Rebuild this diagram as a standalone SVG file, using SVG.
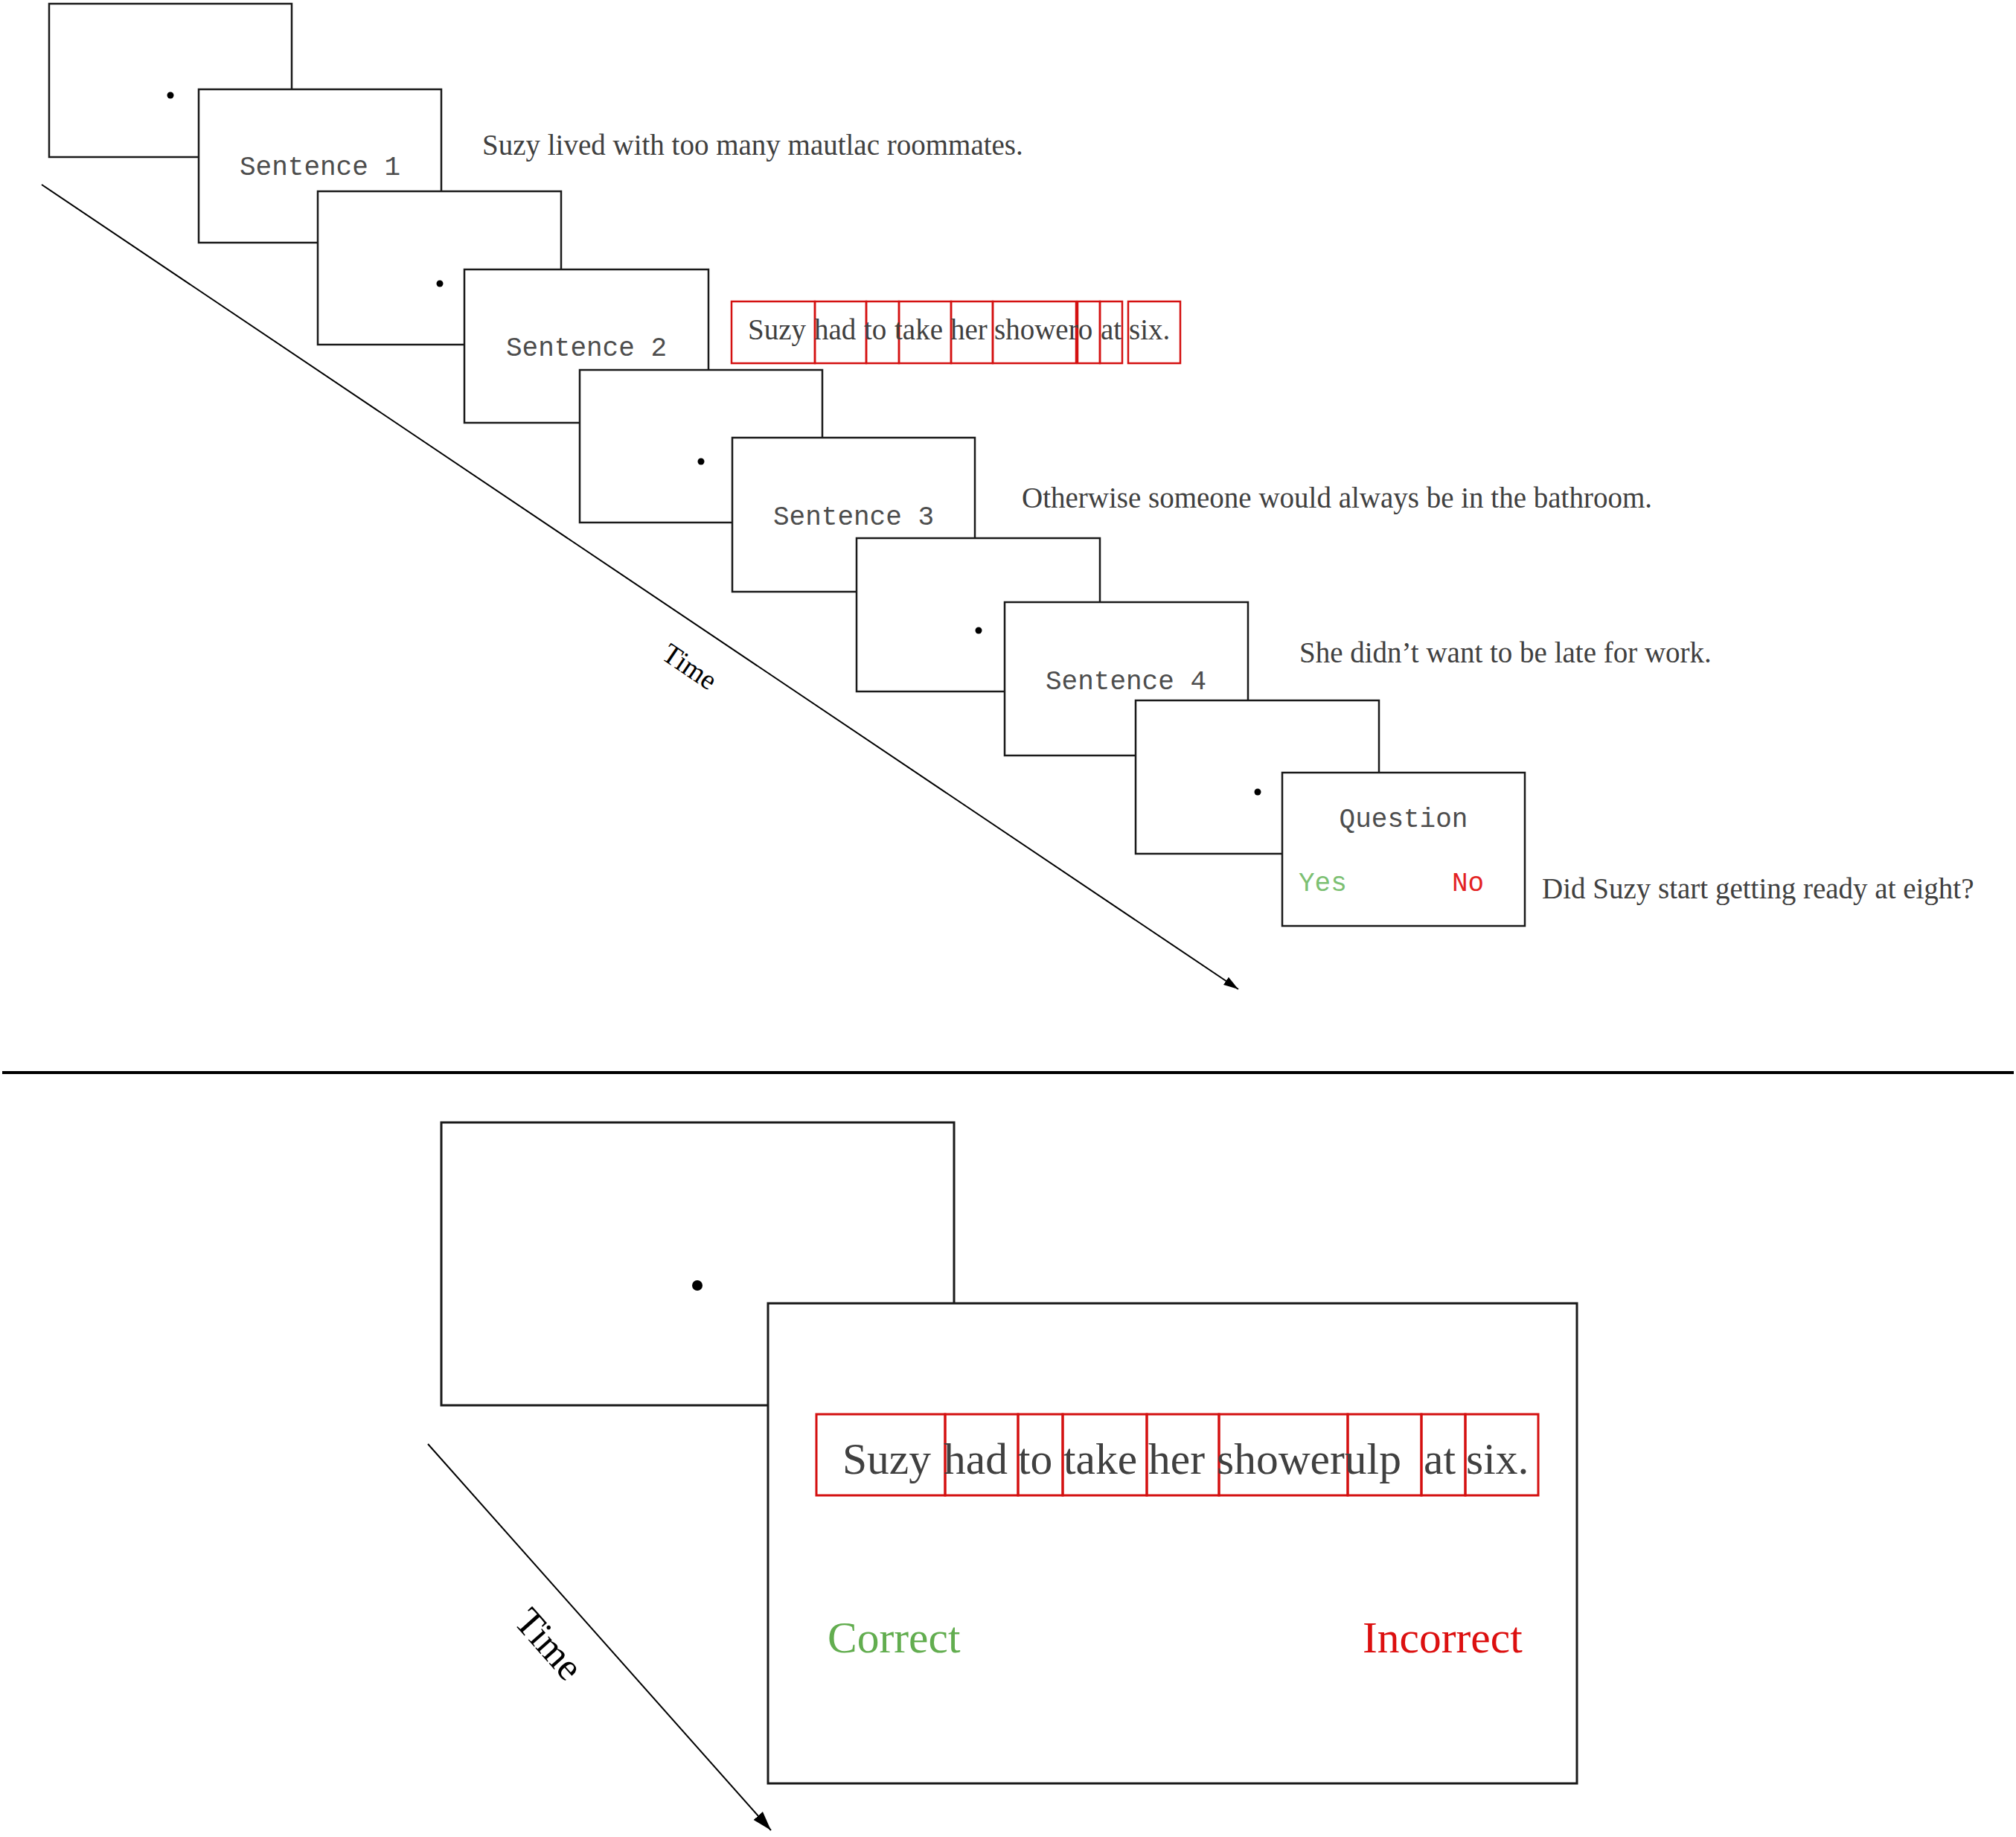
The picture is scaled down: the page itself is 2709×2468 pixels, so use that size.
<svg xmlns="http://www.w3.org/2000/svg" width="2709" height="2468" viewBox="0 0 2709 2468">
<style>
.scr{fill:#ffffff;stroke:#1a1a1a;stroke-width:2.5}
.scrL{fill:#ffffff;stroke:#1a1a1a;stroke-width:3}
.dot{fill:#000000}
.mono{font-family:"Liberation Mono","Courier New",monospace;font-size:36px;fill:#4d4d4d}
.serif{font-family:"Liberation Serif","Times New Roman",serif;font-size:39px;fill:#404040}
.big{font-family:"Liberation Serif","Times New Roman",serif;font-size:59.5px;fill:#404040}
.wb{fill:none;stroke:#d41010;stroke-width:2.5}
.wbL{fill:none;stroke:#d41010;stroke-width:3}
.time{font-family:"Liberation Serif","Times New Roman",serif;fill:#000000}
.axis{stroke:#000000;stroke-width:2;fill:none}
</style>
<defs>
<marker id="arrS" markerUnits="userSpaceOnUse" markerWidth="20" markerHeight="14" refX="16" refY="5" orient="auto" viewBox="0 0 16 10">
<path d="M0,0 L16,5 L0,10 Z" fill="#000000"/>
</marker>
<marker id="arrL" markerUnits="userSpaceOnUse" markerWidth="26" markerHeight="18" refX="22" refY="7" orient="auto" viewBox="0 0 22 14">
<path d="M0,0 L22,7 L0,14 Z" fill="#000000"/>
</marker>
</defs>
<rect width="2709" height="2468" fill="#ffffff"/>

<g id="connectors">
<line class="axis" x1="56" y1="248" x2="1664" y2="1329" marker-end="url(#arrS)"/>
<line class="axis" x1="575" y1="1940" x2="1036" y2="2459" stroke-width="2.5" marker-end="url(#arrL)"/>
<line x1="3" y1="1441" x2="2706" y2="1441" stroke="#000000" stroke-width="4"/>
</g>

<text class="time" font-size="38" transform="translate(887,884) rotate(34)">Time</text>
<text class="time" font-size="52" transform="translate(689,2180) rotate(48.4)">Time</text>

<g id="fix1"><rect class="scr" x="66" y="5" width="326" height="206"/><circle class="dot" cx="229" cy="128" r="4.5"/></g>
<g id="sent1"><rect class="scr" x="267" y="120" width="326" height="206"/><text class="mono" x="430" y="235" text-anchor="middle">Sentence 1</text></g>
<g id="fix2"><rect class="scr" x="427" y="257" width="327" height="206"/><circle class="dot" cx="591" cy="381" r="4.5"/></g>
<g id="sent2"><rect class="scr" x="624" y="362" width="328" height="206"/><text class="mono" x="788" y="478" text-anchor="middle">Sentence 2</text></g>
<g id="fix3"><rect class="scr" x="779" y="497" width="326" height="205"/><circle class="dot" cx="942" cy="620" r="4.5"/></g>
<g id="sent3"><rect class="scr" x="984" y="588" width="326" height="207"/><text class="mono" x="1147" y="705" text-anchor="middle">Sentence 3</text></g>
<g id="fix4"><rect class="scr" x="1151" y="723" width="327" height="206"/><circle class="dot" cx="1315" cy="847" r="4.5"/></g>
<g id="sent4"><rect class="scr" x="1350" y="809" width="327" height="206"/><text class="mono" x="1513" y="926" text-anchor="middle">Sentence 4</text></g>
<g id="fix5"><rect class="scr" x="1526" y="941" width="327" height="206"/><circle class="dot" cx="1690" cy="1064" r="4.5"/></g>
<g id="question"><rect class="scr" x="1723" y="1038" width="326" height="206"/>
<text class="mono" x="1886" y="1111" text-anchor="middle">Question</text>
<text class="mono" x="1745" y="1197" style="fill:#7cc072">Yes</text>
<text class="mono" x="1951" y="1197" style="fill:#e32222">No</text>
</g>

<g id="s1text"><text class="serif" x="648" y="208">Suzy lived with too many mautlac roommates.</text></g>
<g id="s2text">
<rect class="wb" x="983" y="405" width="112" height="83"/>
<rect class="wb" x="1095" y="405" width="69" height="83"/>
<rect class="wb" x="1164" y="405" width="44" height="83"/>
<rect class="wb" x="1208" y="405" width="70" height="83"/>
<rect class="wb" x="1278" y="405" width="56" height="83"/>
<rect class="wb" x="1334" y="405" width="112" height="83"/>
<rect class="wb" x="1448" y="405" width="30" height="83"/>
<rect class="wb" x="1478" y="405" width="30" height="83"/>
<rect class="wb" x="1516" y="405" width="70" height="83"/>
<text class="serif" y="456"><tspan x="1005">Suzy</tspan><tspan x="1094">had</tspan><tspan x="1161">to</tspan><tspan x="1202">take</tspan><tspan x="1277">her</tspan><tspan x="1336">showero</tspan><tspan x="1479">at</tspan><tspan x="1517">six.</tspan></text>
</g>
<g id="s3text"><text class="serif" x="1373" y="682">Otherwise someone would always be in the bathroom.</text></g>
<g id="s4text"><text class="serif" x="1746" y="890">She didn’t want to be late for work.</text></g>
<g id="qtext"><text class="serif" x="2072" y="1207">Did Suzy start getting ready at eight?</text></g>

<g id="fixBig"><rect class="scrL" x="593" y="1508" width="689" height="380"/><circle class="dot" cx="937" cy="1727" r="7"/></g>
<g id="trialBig"><rect class="scrL" x="1032" y="1751" width="1087" height="645"/>
<rect class="wbL" x="1097" y="1900" width="173" height="109"/>
<rect class="wbL" x="1270" y="1900" width="98" height="109"/>
<rect class="wbL" x="1368" y="1900" width="60" height="109"/>
<rect class="wbL" x="1428" y="1900" width="113" height="109"/>
<rect class="wbL" x="1541" y="1900" width="97" height="109"/>
<rect class="wbL" x="1638" y="1900" width="173" height="109"/>
<rect class="wbL" x="1811" y="1900" width="99" height="109"/>
<rect class="wbL" x="1910" y="1900" width="59" height="109"/>
<rect class="wbL" x="1969" y="1900" width="98" height="109"/>
<text class="big" y="1980"><tspan x="1132">Suzy</tspan><tspan x="1268">had</tspan><tspan x="1368">to</tspan><tspan x="1429">take</tspan><tspan x="1543">her</tspan><tspan x="1635">showerulp</tspan><tspan x="1913">at</tspan><tspan x="1970">six.</tspan></text>
<text class="big" x="1112" y="2220" style="fill:#62ad4f">Correct</text>
<text class="big" x="1831" y="2220" style="fill:#dc0f0f">Incorrect</text>
</g>
</svg>
